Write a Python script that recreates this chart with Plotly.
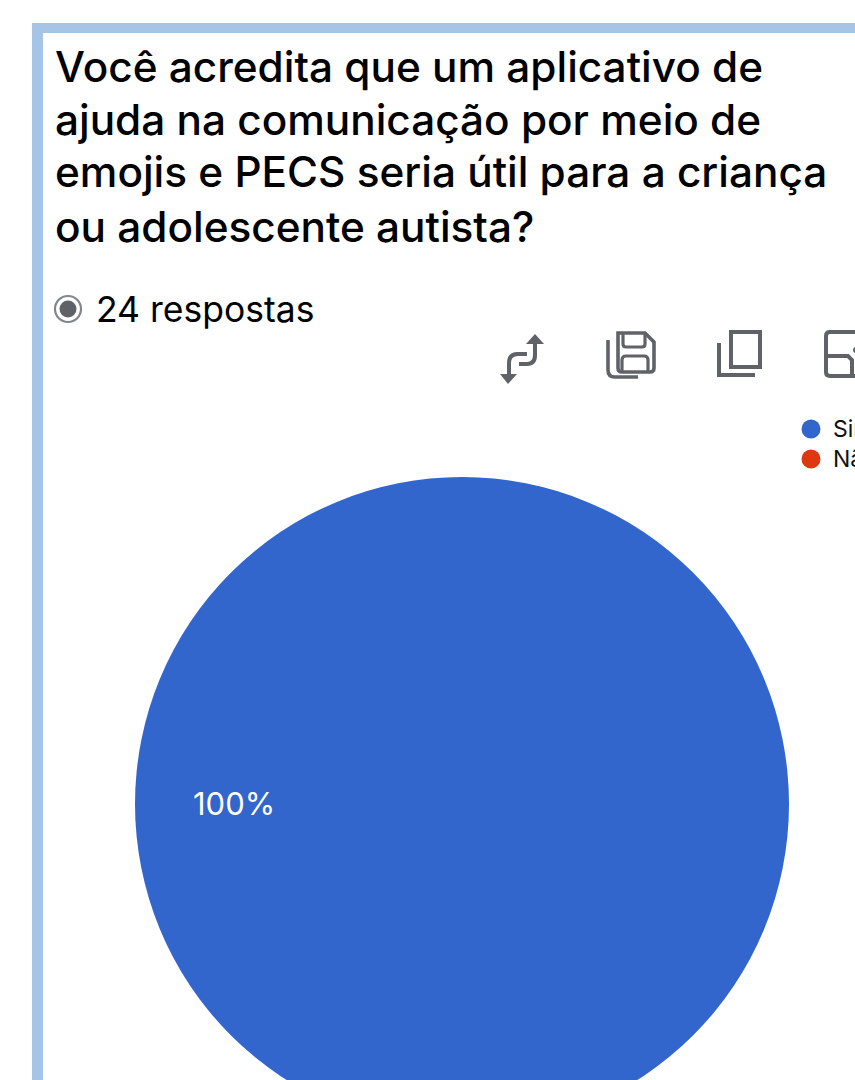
import plotly.graph_objects as go

# Survey data
categories = ["Sim", "Não"]
responses = [24, 0]
slice_colors = ["#3366cc", "#dc3912"]

question_lines = [
    "Você acredita que um aplicativo de",
    "ajuda na comunicação por meio de",
    "emojis e PECS seria útil para a criança",
    "ou adolescente autista?",
]
response_note = "24 respostas"

# The page is taller than the visible window, so the pie runs off the bottom edge
W, H = 855, 1200
FONT = "Inter"
ICON = "#5f6368"


def px(x):
    return x / W


def py(y):
    return 1 - y / H


def path(cmds):
    """Build an SVG path in paper coordinates from (letter, x, y, ...) tuples in pixels."""
    out = []
    for c in cmds:
        nums = c[1:]
        pts = [f"{px(nums[i]):.5f},{py(nums[i + 1]):.5f}" for i in range(0, len(nums), 2)]
        out.append(c[0] + " ".join(pts))
    return " ".join(out)


def stroke(cmds, width=4.0, color=ICON):
    return dict(type="path", xref="paper", yref="paper", path=path(cmds),
                line=dict(color=color, width=width), fillcolor="rgba(0,0,0,0)", layer="above")


def solid(cmds, color=ICON):
    return dict(type="path", xref="paper", yref="paper", path=path(cmds) + " Z",
                line=dict(width=0), fillcolor=color, layer="above")


def rect(x0, y0, x1, y1, color):
    return dict(type="rect", xref="paper", yref="paper", x0=px(x0), x1=px(x1), y0=py(y0), y1=py(y1),
                line=dict(width=0), fillcolor=color, layer="below")


def dot(cx, cy, r, fill, line_color=None, line_width=0):
    return dict(type="circle", xref="paper", yref="paper",
                x0=px(cx - r), x1=px(cx + r), y0=py(cy + r), y1=py(cy - r),
                fillcolor=fill, line=dict(color=line_color, width=line_width) if line_width else dict(width=0),
                layer="above")


cx, cy, radius = 462, 804, 327

fig = go.Figure(go.Pie(
    labels=categories,
    values=responses,
    sort=False,
    direction="clockwise",
    marker=dict(colors=slice_colors, line=dict(width=0)),
    textinfo="none",
    showlegend=False,
    hoverinfo="label+percent",
    domain=dict(x=[px(cx - radius), px(cx + radius)],
                y=[py(cy + radius), py(cy - radius)]),
))

shapes = [
    # Frame around the card
    rect(32, 23, 855, 33, "#a6c4e6"),
    rect(32, 23, 43, H, "#a6c4e6"),
    # Radio marker beside the response count
    dot(68, 309, 13, "rgba(0,0,0,0)", "#80868b", 2.2),
    dot(68, 309, 8.5, ICON),
    # Switch rows and columns icon
    solid([("M", 535, 334), ("L", 544, 344), ("L", 526, 344)]),
    stroke([("M", 535, 342), ("L", 535, 355), ("Q", 535, 364, 527, 364), ("L", 519, 364)]),
    stroke([("M", 527, 354), ("L", 518, 354), ("Q", 509, 354, 509, 363), ("L", 509, 376)]),
    solid([("M", 508, 384), ("L", 500, 374), ("L", 517, 374)]),
    # Save icon
    stroke([("M", 618, 333), ("L", 645, 333), ("L", 654, 342), ("L", 654, 368), ("Q", 654, 372, 650, 372),
            ("L", 622, 372), ("Q", 618, 372, 618, 368), ("Z",)], 3.6),
    stroke([("M", 623, 333), ("L", 623, 344), ("Q", 623, 347, 626, 347), ("L", 642, 347),
            ("Q", 645, 347, 645, 344), ("L", 645, 333)], 3.2),
    stroke([("M", 622, 372), ("L", 622, 360), ("Q", 622, 356, 626, 356), ("L", 644, 356),
            ("Q", 648, 356, 648, 360), ("L", 648, 372)], 3.2),
    stroke([("M", 608, 340), ("L", 608, 370), ("Q", 608, 377, 615, 377), ("L", 638, 377)], 3.6),
    # Copy icon
    stroke([("M", 731, 332), ("L", 760, 332), ("L", 760, 367), ("L", 731, 367), ("Z",)], 4),
    stroke([("M", 719, 343), ("L", 719, 375), ("L", 755, 375)], 4),
    # Publish icon, cut by the window edge
    stroke([("M", 860, 332), ("L", 830, 332), ("Q", 826, 332, 826, 336), ("L", 826, 372),
            ("Q", 826, 376, 830, 376), ("L", 860, 376)], 4),
    stroke([("M", 826, 356), ("L", 848, 356), ("L", 852, 360), ("L", 852, 376)], 4),
    dot(856, 350, 3, ICON),
]

annotations = []


def text(x, y, s, size, color="#000000", font=FONT, weight=400):
    annotations.append(dict(
        x=px(x), y=py(y), xref="paper", yref="paper", xanchor="left", yanchor="middle",
        text=s, showarrow=False, align="left", borderpad=0,
        font=dict(family=font, size=size, color=color, weight=weight),
    ))


for line, y in zip(question_lines, [67, 120, 172, 226]):
    text(54, y, line, 42.3, weight=500)

text(95, 309, response_note, 35.5)

# Share label for the only non-empty slice
share = round(100 * responses[0] / sum(responses))
text(192, 803, f"{share}%", 31, "#ffffff", "Inter")

# Round-marker legend
for name, color, y in zip(categories, slice_colors, [429, 459]):
    shapes.append(dot(811, y, 9.5, color))
    text(832, y, name, 23, "#111111", "Inter")

fig.update_layout(
    width=W, height=H,
    margin=dict(l=0, r=0, t=0, b=0),
    paper_bgcolor="#ffffff",
    plot_bgcolor="#ffffff",
    shapes=shapes,
    annotations=annotations,
)

fig.write_html("out.html", config=dict(displayModeBar=False, responsive=False),
               post_script="document.body.style.overflow='hidden';document.documentElement.style.overflow='hidden';")
